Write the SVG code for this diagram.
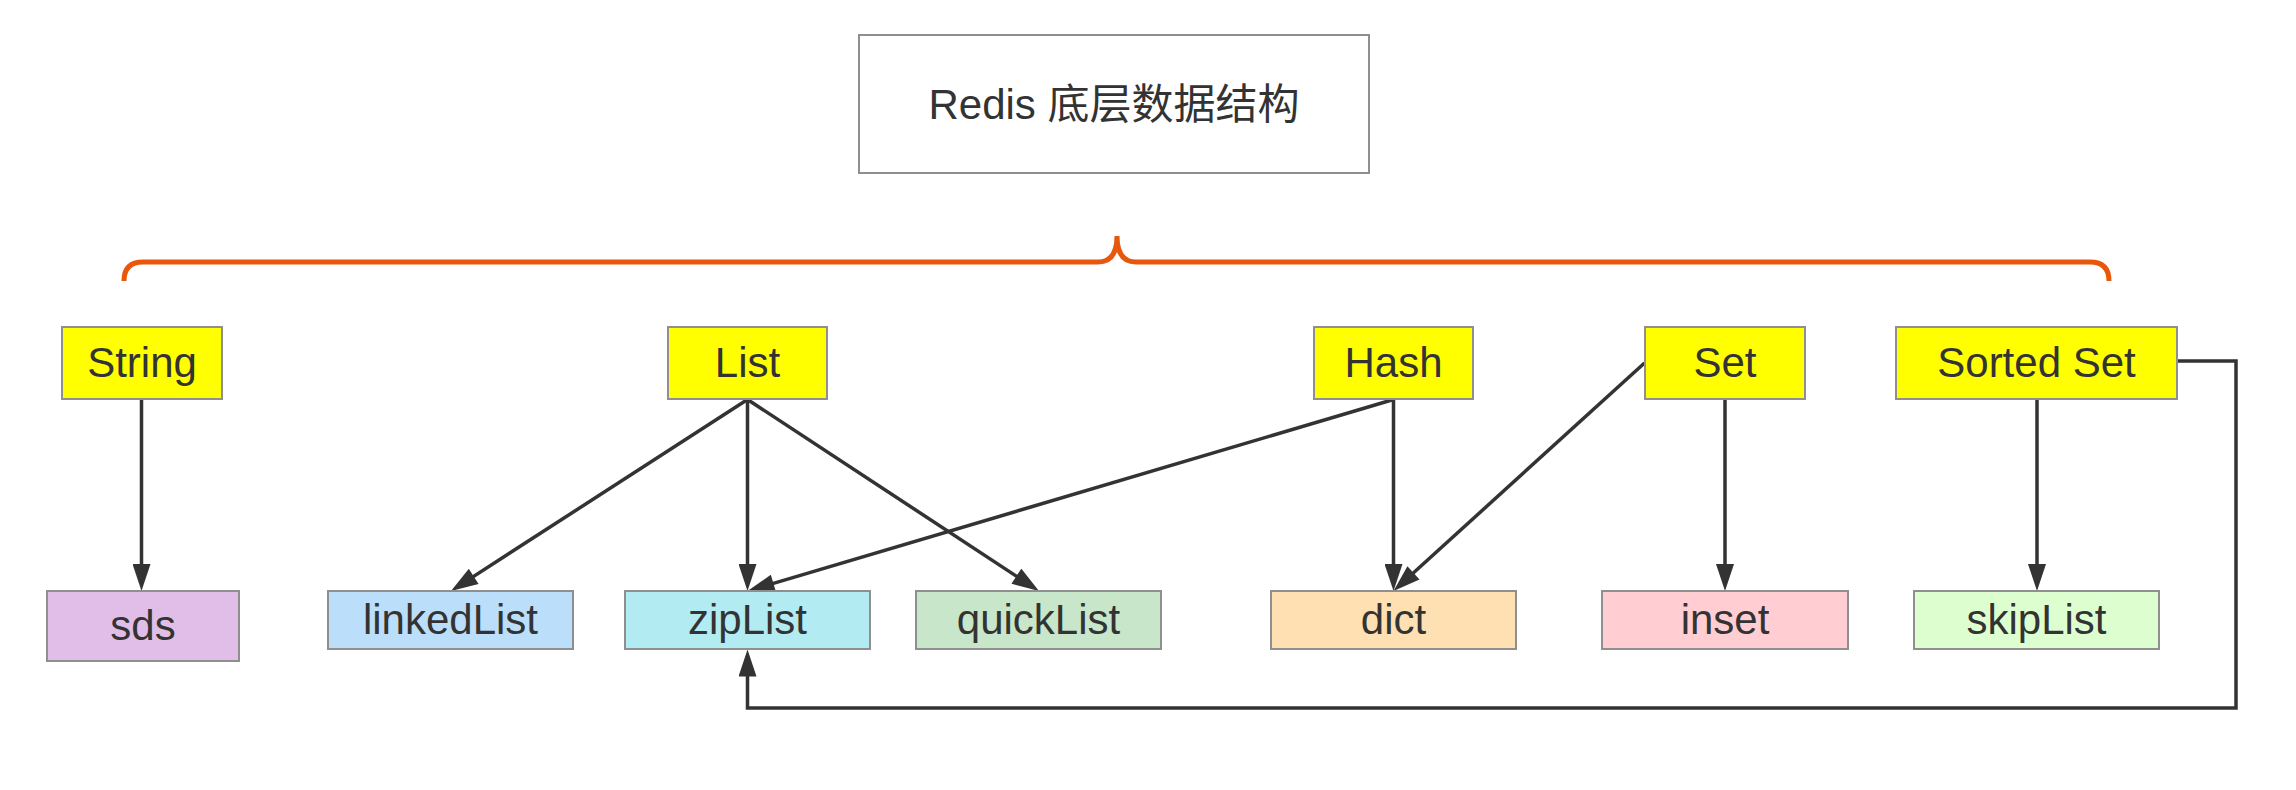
<svg xmlns="http://www.w3.org/2000/svg" width="2296" height="790" viewBox="0 0 2296 790">
<style>
.box{stroke:#8f8f8f;stroke-width:2}
.top{fill:#ffff00}
.t{font-family:"Liberation Sans","Noto Sans CJK SC",sans-serif;font-size:42px;fill:#333;text-anchor:middle}
.title{font-size:42px}
.c{fill:none;stroke:#333;stroke-width:3.5}
</style>
<defs>
<marker id="arr" markerUnits="userSpaceOnUse" markerWidth="28" markerHeight="18" viewBox="0 0 27 18" refX="17" refY="9" orient="auto">
<path d="M0,0 L27,9 L0,18 z" fill="#333"/>
</marker>
</defs>
<rect width="2296" height="790" fill="#fff"/>
<g id="title">
<rect class="box" x="859" y="35" width="510" height="138" fill="#fff"/>
<text class="t title" x="1114" y="119">Redis 底层数据结构</text>
</g>
<g id="brace">
<path d="M124,281 Q124,262 143,262 L1098,262 Q1117,262 1117,236 Q1117,262 1136,262 L2090,262 Q2109,262 2109,281" fill="none" stroke="#e8580c" stroke-width="5" stroke-linecap="butt"/>
</g>
<g id="connectors">
<path class="c" d="M141.5,399.5 L141.5,581" marker-end="url(#arr)"/>
<path class="c" d="M747.5,399.5 L459.4,585.6" marker-end="url(#arr)"/>
<path class="c" d="M747.5,399.5 L747.5,581" marker-end="url(#arr)"/>
<path class="c" d="M747.5,399.5 L1030.6,585.5" marker-end="url(#arr)"/>
<path class="c" d="M1393.5,399.5 L757.1,588.2" marker-end="url(#arr)"/>
<path class="c" d="M1393.5,399.5 L1393.5,581" marker-end="url(#arr)"/>
<path class="c" d="M1644.5,363 L1400.9,584.3" marker-end="url(#arr)"/>
<path class="c" d="M1725,399.5 L1725,581" marker-end="url(#arr)"/>
<path class="c" d="M2037,399.5 L2037,581" marker-end="url(#arr)"/>
<path class="c" d="M2177.5,361 L2236,361 L2236,708 L747.5,708 L747.5,659.5" marker-end="url(#arr)"/>
</g>
<g id="String"><rect class="box top" x="62" y="327" width="160" height="72"/><text class="t" x="142" y="377">String</text></g>
<g id="List"><rect class="box top" x="668" y="327" width="159" height="72"/><text class="t" x="747.5" y="377">List</text></g>
<g id="Hash"><rect class="box top" x="1314" y="327" width="159" height="72"/><text class="t" x="1393.5" y="377">Hash</text></g>
<g id="Set"><rect class="box top" x="1645" y="327" width="160" height="72"/><text class="t" x="1725" y="377">Set</text></g>
<g id="SortedSet"><rect class="box top" x="1896" y="327" width="281" height="72"/><text class="t" x="2036.5" y="377">Sorted Set</text></g>
<g id="sds"><rect class="box" x="47" y="591" width="192" height="70" fill="#e1bee7"/><text class="t" x="143" y="640">sds</text></g>
<g id="linkedList"><rect class="box" x="328" y="591" width="245" height="58" fill="#bbdefb"/><text class="t" x="450.5" y="634">linkedList</text></g>
<g id="zipList"><rect class="box" x="625" y="591" width="245" height="58" fill="#b2ebf2"/><text class="t" x="747.5" y="634">zipList</text></g>
<g id="quickList"><rect class="box" x="916" y="591" width="245" height="58" fill="#c8e6c9"/><text class="t" x="1038.5" y="634">quickList</text></g>
<g id="dict"><rect class="box" x="1271" y="591" width="245" height="58" fill="#ffe0b2"/><text class="t" x="1393.5" y="634">dict</text></g>
<g id="inset"><rect class="box" x="1602" y="591" width="246" height="58" fill="#ffcdd2"/><text class="t" x="1725" y="634">inset</text></g>
<g id="skipList"><rect class="box" x="1914" y="591" width="245" height="58" fill="#ddffd0"/><text class="t" x="2036.5" y="634">skipList</text></g>
</svg>
